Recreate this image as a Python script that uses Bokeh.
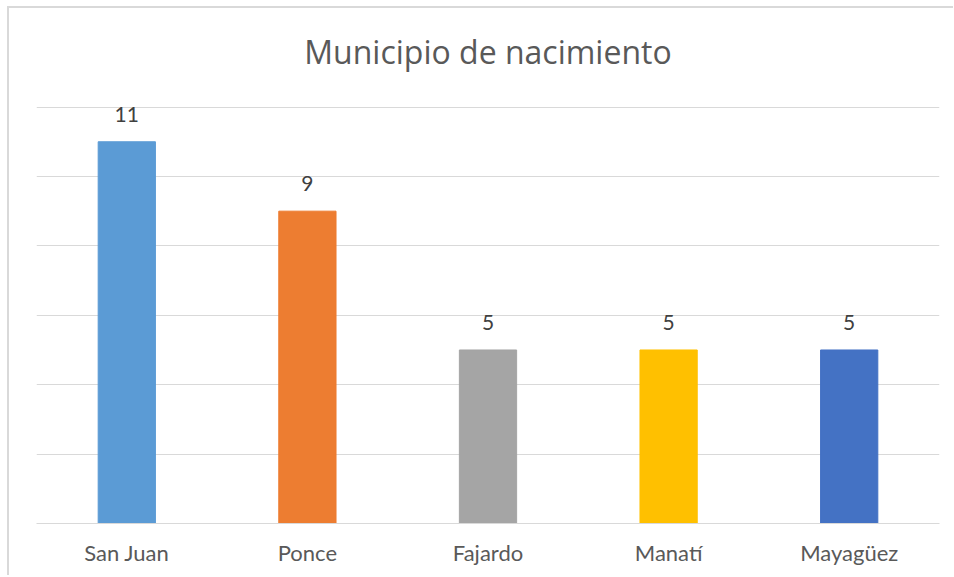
from bokeh.plotting import figure
from bokeh.models import ColumnDataSource, LabelSet, Label, FixedTicker, Range1d
from bokeh.core.properties import value
from bokeh.embed import file_html
from bokeh.resources import INLINE

municipios = ["San Juan", "Ponce", "Fajardo", "Manatí", "Mayagüez"]
conteos = [11, 9, 5, 5, 5]
colores = ["#5B9BD5", "#ED7D31", "#A5A5A5", "#FFC000", "#4472C4"]
titulo = "Municipio de nacimiento"
y_ticks = [0, 2, 4, 6, 8, 10, 12]

FONT = "Lato"

src = ColumnDataSource(dict(x=municipios, top=conteos, color=colores,
                            label=[str(v) for v in conteos]))

p = figure(x_range=municipios, y_range=Range1d(0, 14.84), width=946, height=569,
           output_backend="svg", toolbar_location=None,
           min_border_left=27, min_border_right=16, min_border_top=0,
           min_border_bottom=54)
p.styles = {"margin-left": "7px", "margin-top": "6px",
            "border-left": "2px solid #d9d9d9", "border-top": "2px solid #d9d9d9",
            "box-sizing": "border-box"}

p.vbar(x="x", top="top", width=0.317, color="color", source=src)

p.outline_line_color = None
p.yaxis.visible = False
p.xgrid.grid_line_color = None
p.ygrid.ticker = FixedTicker(ticks=y_ticks)
p.ygrid.grid_line_color = "#d9d9d9"
p.ygrid.grid_line_width = 1

xa = p.xaxis[0]
xa.axis_line_color = "#d9d9d9"
xa.axis_line_width = 1
xa.major_tick_line_color = None
xa.minor_tick_line_color = None
xa.major_tick_out = 0
xa.major_label_standoff = 15
xa.major_label_text_font = FONT
xa.major_label_text_font_size = "22px"
xa.major_label_text_color = "#595959"

labels = LabelSet(x="x", y="top", text="label", source=src, y_offset=20,
                  text_align="center", text_baseline="alphabetic",
                  text_font=value(FONT), text_font_size=value("21px"),
                  text_color=value("#404040"))
p.add_layout(labels)

p.add_layout(Label(x=2.5, y=13.61, text=titulo, text_align="center",
                   text_baseline="alphabetic", text_font="Open Sans",
                   text_font_size="32px", text_color="#595959"))

open("out.html", "w").write(file_html(p, INLINE))
